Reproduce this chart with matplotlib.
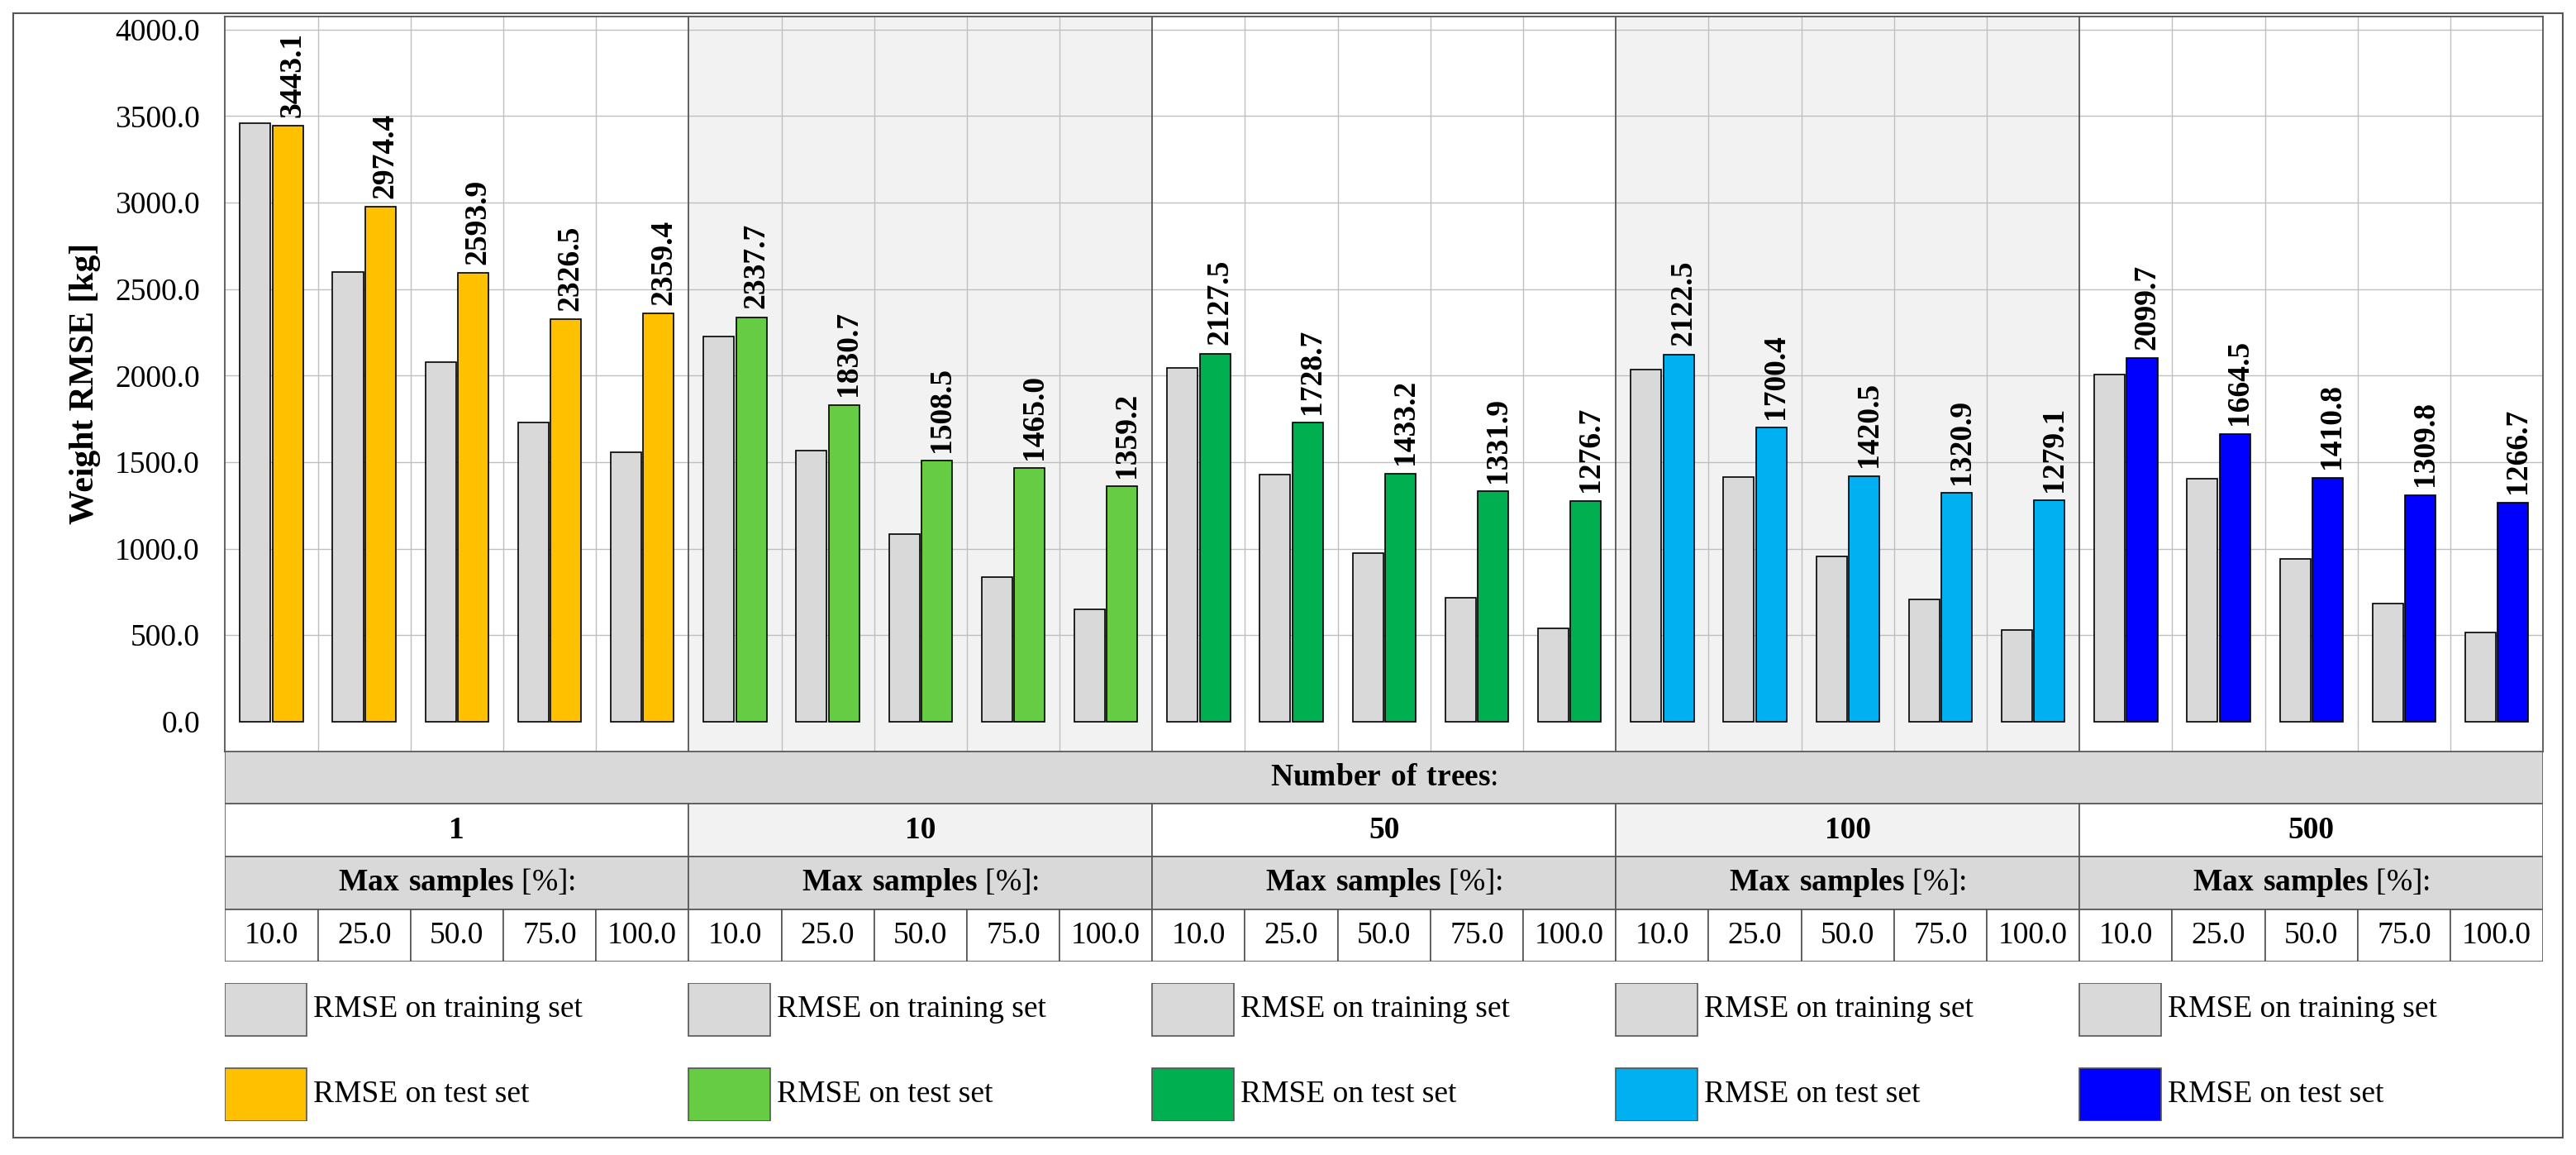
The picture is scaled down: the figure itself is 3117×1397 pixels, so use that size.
import matplotlib
matplotlib.use("Agg")
import matplotlib.pyplot as plt
from matplotlib.patches import Rectangle

trees = ["1", "10", "50", "100", "500"]
samples = ["10.0", "25.0", "50.0", "75.0", "100.0"]
train = [[3460, 2600, 2080, 1730, 1555],
         [2225, 1565, 1085, 835, 650],
         [2045, 1430, 975, 715, 540],
         [2035, 1415, 955, 705, 530],
         [2005, 1405, 940, 685, 515]]
test = [[3443.1, 2974.4, 2593.9, 2326.5, 2359.4],
        [2337.7, 1830.7, 1508.5, 1465.0, 1359.2],
        [2127.5, 1728.7, 1433.2, 1331.9, 1276.7],
        [2122.5, 1700.4, 1420.5, 1320.9, 1279.1],
        [2099.7, 1664.5, 1410.8, 1309.8, 1266.7]]
colors = ["#FFC000", "#66CC44", "#00B050", "#00B0F0", "#0000FF"]
train_color = "#D9D9D9"

plt.rcParams["font.family"] = "Liberation Serif"
plt.rcParams["mathtext.fontset"] = "custom"
plt.rcParams["mathtext.rm"] = "Liberation Serif"
plt.rcParams["mathtext.bf"] = "Liberation Serif:bold"
W, H = 1568, 702.6
fig = plt.figure(figsize=(31.17, 13.97), dpi=100)
def fx(x): return x / W
def fy(y): return 1 - y / H

fig.patches.append(Rectangle((fx(8), fy(692)), fx(1552), (692 - 8) / H, transform=fig.transFigure,
                             fill=False, edgecolor="#555555", lw=1.5))

FS = 27
L, R = 137, 1548
ax = fig.add_axes([fx(L), fy(457), fx(R - L), (457 - 10) / H])
ax.set_xlim(0, 25)
ax.set_ylim(-171, 4076)
for g in (1, 3):
    ax.axvspan(g * 5, g * 5 + 5, color="#F2F2F2", zorder=0)
for y in range(500, 4001, 500):
    ax.axhline(y, color="#BFBFBF", lw=1, zorder=1)
for i in range(1, 25):
    ax.axvline(i, color="#555555" if i % 5 == 0 else "#BFBFBF", lw=1.3 if i % 5 == 0 else 1, zorder=1)
bw = 0.33
for g in range(5):
    for j in range(5):
        c = g * 5 + j + 0.5
        ax.bar(c - bw / 2 - 0.01, train[g][j], bw, color=train_color, edgecolor="black", lw=1.2, zorder=3)
        ax.bar(c + bw / 2 + 0.01, test[g][j], bw, color=colors[g], edgecolor="black", lw=1.2, zorder=3)
        ax.text(c + bw / 2 + 0.06, test[g][j] + 50, f"{test[g][j]:.1f}", rotation=90, ha="center",
                va="bottom", fontsize=FS, fontweight="bold", zorder=4)
ax.set_yticks(range(0, 4001, 500))
ax.set_yticklabels([f"{v:.1f}" for v in range(0, 4001, 500)], fontsize=FS)
ax.tick_params(axis="y", length=0, pad=22)
ax.set_xticks([])
ax.set_ylabel("Weight RMSE [kg]", fontsize=30, fontweight="bold", labelpad=12)
for s in ax.spines.values():
    s.set_color("#555555"); s.set_linewidth(1.3)

tb = fig.add_axes([fx(L), fy(585), fx(R - L), (585 - 457) / H])
tb.set_xlim(0, 25); tb.set_ylim(0, 4); tb.axis("off")
def cell(x0, y0, w, h, fc, txt, bold=False):
    tb.add_patch(Rectangle((x0, y0), w, h, facecolor=fc, edgecolor="#555555", lw=1.2))
    tb.text(x0 + w / 2, y0 + h / 2, txt, ha="center", va="center", fontsize=FS,
            fontweight="bold" if bold else "normal")
cell(0, 3, 25, 1, "#D9D9D9", r"$\bf{Number\ of\ trees}$:")
for g in range(5):
    cell(g * 5, 2, 5, 1, "#F2F2F2" if g % 2 else "white", trees[g], True)
    cell(g * 5, 1, 5, 1, "#D9D9D9", r"$\bf{Max\ samples}$ [%]:")
    for j in range(5):
        cell(g * 5 + j, 0, 1, 1, "white", samples[j])

lg = fig.add_axes([fx(L), fy(682), fx(R - L), (682 - 598) / H])
lg.set_xlim(0, 25); lg.set_ylim(0, 2.6); lg.axis("off")
for g in range(5):
    for row, (col, lab) in enumerate([(train_color, "RMSE on training set"), (colors[g], "RMSE on test set")]):
        y0 = 1.6 - row * 1.6
        lg.add_patch(Rectangle((g * 5, y0), 0.88, 1.0, facecolor=col, edgecolor="#555555", lw=1.2))
        lg.text(g * 5 + 0.95, y0 + 0.5, lab, ha="left", va="center", fontsize=FS)

fig.savefig("out.png", dpi=100)
